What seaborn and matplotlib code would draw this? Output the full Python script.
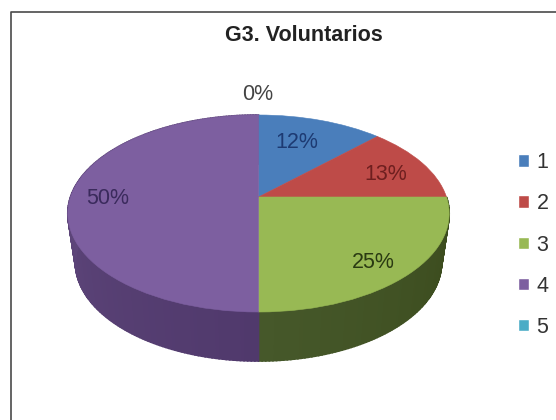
# G3. Voluntarios - 3D looking pie with legend
import numpy as np
import matplotlib
matplotlib.use("Agg")
import matplotlib.pyplot as plt
import matplotlib.transforms as mtransforms
import seaborn as sns

categories = ["1", "2", "3", "4", "5"]
shares = [12.5, 12.5, 25, 50, 0]
share_labels = ["12%", "13%", "25%", "50%", "0%"]
title = "G3. Voluntarios"

top_colors = ["#4a7ebb", "#be4b48", "#98b954", "#7d5fa0", "#4bacc6"]
label_colors = ["#1d3a72", "#6e1f1f", "#2a3a12", "#3a2a5c", "#444444"]
wall_colors = {2: ("#3a4a1c", "#46582a"), 3: ("#50396c", "#6b5288")}

# pie geometry, in pixels of the picture
cx, cy = 258.5, 197
rx = 188
ry_up, ry_down = 82, 115
tilt = (ry_down - ry_up) / (ry_down + ry_up)
amp = ry_up * (1 + tilt)
depth = 49
wall_shrink = 0.96


def project(u, v):
    w = 1 + tilt * v
    return cx + rx * u / w, cy - amp * v / w


class Tilt(mtransforms.Transform):
    input_dims = 2
    output_dims = 2
    is_separable = False
    has_inverse = False

    def transform_non_affine(self, values):
        values = np.asarray(values)
        x, y = project(values[:, 0], values[:, 1])
        return np.column_stack([x, y])


sns.set_theme(style="white", rc={"figure.facecolor": "white"})
plt.rcParams["font.family"] = ["Liberation Sans", "DejaVu Sans"]

fig = plt.figure(figsize=(5.56, 4.2), dpi=100)
ax = fig.add_axes([0, 0, 1, 1])

wedges, _ = ax.pie(shares, colors=top_colors, startangle=90, counterclock=False,
                   radius=1, frame=False)
ax.set_aspect("auto")
ax.set_xlim(0, 556)
ax.set_ylim(420, 0)
ax.axis("off")

# side wall, one strip per small step of each slice
edges = np.cumsum([0] + shares) / sum(shares) * 2 * np.pi
for i in range(len(shares)):
    if i not in wall_colors:
        continue
    start, stop = edges[i], edges[i + 1]
    n = int(max(stop - start, 0) * 60)
    shade = sns.blend_palette(wall_colors[i], n)
    theta = np.linspace(start, stop, n + 1)
    xs, ys = project(np.sin(theta), np.cos(theta))
    xl = cx + (xs - cx) * wall_shrink
    yl = ys + depth
    for k in range(n):
        ax.fill([xs[k], xs[k + 1], xl[k + 1], xl[k]],
                [ys[k], ys[k + 1], yl[k + 1], yl[k]],
                color=shade[k], lw=1.2, zorder=1)

# value labels
label_pos = [(297, 143), (386, 175), (373, 262), (108, 199), (258, 94)]
for txt, col, (lx, ly) in zip(share_labels, label_colors, label_pos):
    ax.text(lx, ly, txt, color=col, fontsize=15.5, ha="center", va="center", zorder=4)

ax.text(304, 33, title, color="#222222", fontsize=15.5, fontweight="bold",
        ha="center", va="center_baseline")

# chart frame, cut off on the right and at the bottom
ax.plot([11, 11, 556], [420, 12, 12], color="#4a4a4a", lw=1.2, zorder=5, clip_on=False)

leg = ax.legend(wedges, categories, loc="center left", bbox_to_anchor=(518 / 556, 1 - 245 / 420),
                bbox_transform=fig.transFigure, frameon=False, fontsize=15.5,
                handlelength=0.5, handleheight=0.5, handletextpad=0.36,
                labelspacing=0.94, borderpad=0, borderaxespad=0)
for t in leg.get_texts():
    t.set_color("#333333")

# top face goes through the tilt only after the legend has its handles
tilt_tf = Tilt() + ax.transData
for w, col, val in zip(wedges, top_colors, shares):
    w.set_transform(tilt_tf)
    w.set_zorder(3)
    w.set_edgecolor(col)
    w.set_linewidth(0.4)
    w.set_visible(val > 0)

fig.savefig("out.png", dpi=100)
